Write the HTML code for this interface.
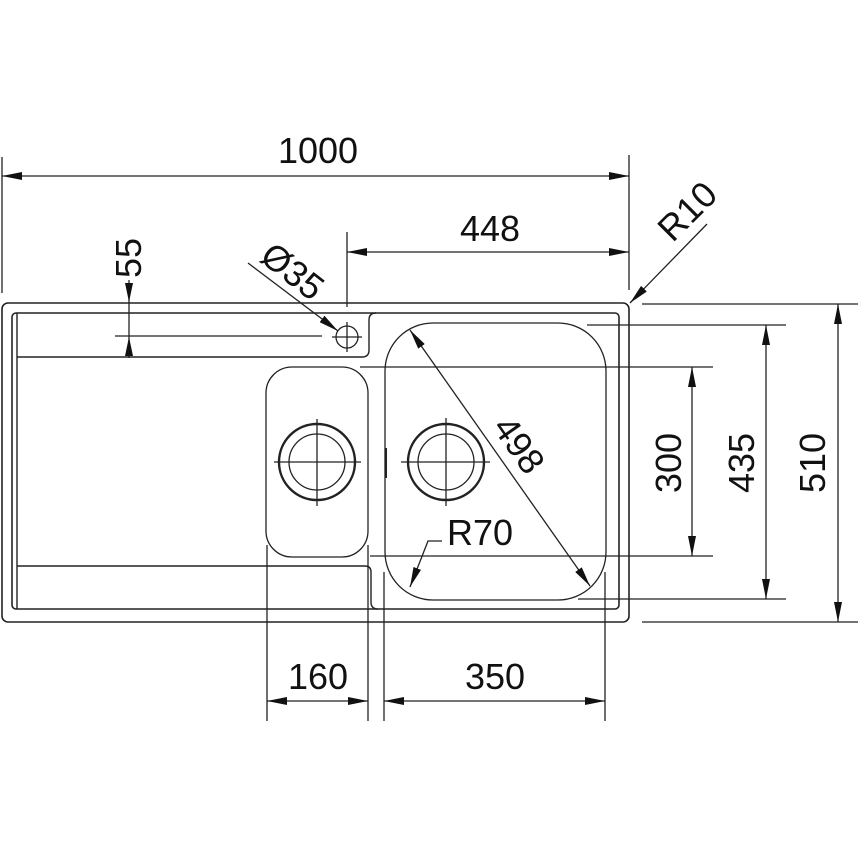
<!DOCTYPE html>
<html><head><meta charset="utf-8"><style>
html,body{margin:0;padding:0;background:#fff;}
svg{display:block;}
text{font-family:"Liberation Sans",Arial,sans-serif;font-size:36px;fill:#111;}
</style></head><body>
<svg width="860" height="860" viewBox="0 0 860 860" xmlns="http://www.w3.org/2000/svg">
<defs>
<marker id="a" viewBox="0 0 20 8" refX="20" refY="4" markerWidth="20" markerHeight="8" markerUnits="userSpaceOnUse" orient="auto-start-reverse">
<path d="M0,0 L20,4 L0,8 Z" fill="#111"/></marker>
</defs>
<g fill="none" stroke="#222" stroke-width="1.3">
<rect x="2" y="303" width="627" height="319" rx="6" stroke-width="1.6"/>
<rect x="12" y="313" width="607" height="296" rx="4" stroke-width="1.6"/>
<path d="M17,357 L362,357 Q369,357 369,350 L369,320 Q369,313 376,313" stroke-width="1.4"/>
<line x1="17" y1="313" x2="17" y2="609" stroke-width="1.4"/>
<path d="M17,566 L365,566 Q371,566 371,572 L371,602 Q371,609 378,609" stroke-width="1.4"/>
<rect x="266" y="367" width="102" height="190" rx="26"/>
<circle cx="317" cy="462" r="38" stroke-width="2.4"/>
<circle cx="317" cy="462" r="28"/>
<line x1="274" y1="462" x2="361" y2="462"/><line x1="317" y1="419" x2="317" y2="506"/>
<rect x="385" y="323" width="221" height="277" rx="48"/>
<circle cx="446" cy="462" r="38" stroke-width="2.4"/>
<circle cx="446" cy="462" r="28"/>
<line x1="401" y1="462" x2="490" y2="462"/><line x1="446" y1="418" x2="446" y2="506"/>
<line x1="386" y1="448" x2="386" y2="478" stroke-width="2"/>
<circle cx="347" cy="337" r="11"/>
<line x1="332" y1="337" x2="362" y2="337"/><line x1="347" y1="322" x2="347" y2="352"/>
<line x1="2" y1="157" x2="2" y2="293"/>
<line x1="629" y1="155" x2="629" y2="290"/>
<line x1="2" y1="176" x2="629" y2="176" marker-start="url(#a)" marker-end="url(#a)"/>
<line x1="347" y1="232" x2="347" y2="307"/>
<line x1="347" y1="252" x2="629" y2="252" marker-start="url(#a)" marker-end="url(#a)"/>
<line x1="115" y1="336" x2="322" y2="336"/>
<line x1="129" y1="280" x2="129" y2="358"/>
<path d="M125,283 L129,302 L133,283 Z" fill="#111" stroke="none"/>
<path d="M125,356 L129,337 L133,356 Z" fill="#111" stroke="none"/>
<line x1="248" y1="263" x2="338" y2="331" marker-end="url(#a)"/>
<line x1="707" y1="224" x2="630" y2="303" marker-end="url(#a)"/>
<line x1="360" y1="367" x2="713" y2="367"/>
<line x1="370" y1="556" x2="713" y2="556"/>
<line x1="692" y1="367" x2="692" y2="556" marker-start="url(#a)" marker-end="url(#a)"/>
<line x1="587" y1="325" x2="786" y2="325"/>
<line x1="578" y1="599" x2="786" y2="599"/>
<line x1="766" y1="325" x2="766" y2="599" marker-start="url(#a)" marker-end="url(#a)"/>
<line x1="642" y1="304" x2="858" y2="304"/>
<line x1="642" y1="622" x2="858" y2="622"/>
<line x1="838" y1="304" x2="838" y2="622" marker-start="url(#a)" marker-end="url(#a)"/>
<line x1="267" y1="545" x2="267" y2="721"/>
<line x1="368" y1="545" x2="368" y2="721"/>
<line x1="384" y1="572" x2="384" y2="721"/>
<line x1="605" y1="572" x2="605" y2="721"/>
<line x1="267" y1="701" x2="368" y2="701" marker-start="url(#a)" marker-end="url(#a)"/>
<line x1="384" y1="701" x2="605" y2="701" marker-start="url(#a)" marker-end="url(#a)"/>
<line x1="410" y1="330" x2="590" y2="586" marker-start="url(#a)" marker-end="url(#a)"/>
<path d="M442,541 L428,541 L410,587" marker-end="url(#a)"/>
</g>
<text x="318" y="163" text-anchor="middle">1000</text>
<text x="490" y="241" text-anchor="middle">448</text>
<text x="318" y="689" text-anchor="middle">160</text>
<text x="495" y="689" text-anchor="middle">350</text>
<text x="480" y="545" text-anchor="middle">R70</text>
<text transform="translate(681,463) rotate(-90)" text-anchor="middle">300</text>
<text transform="translate(754,463) rotate(-90)" text-anchor="middle">435</text>
<text transform="translate(825,463) rotate(-90)" text-anchor="middle">510</text>
<text transform="translate(141,258) rotate(-90)" text-anchor="middle">55</text>
<text transform="translate(285,281) rotate(38)" text-anchor="middle">Ø35</text>
<text transform="translate(696,220) rotate(-45)" text-anchor="middle">R10</text>
<text transform="translate(509,452) rotate(55)" text-anchor="middle">498</text>
</svg>
</body></html>
